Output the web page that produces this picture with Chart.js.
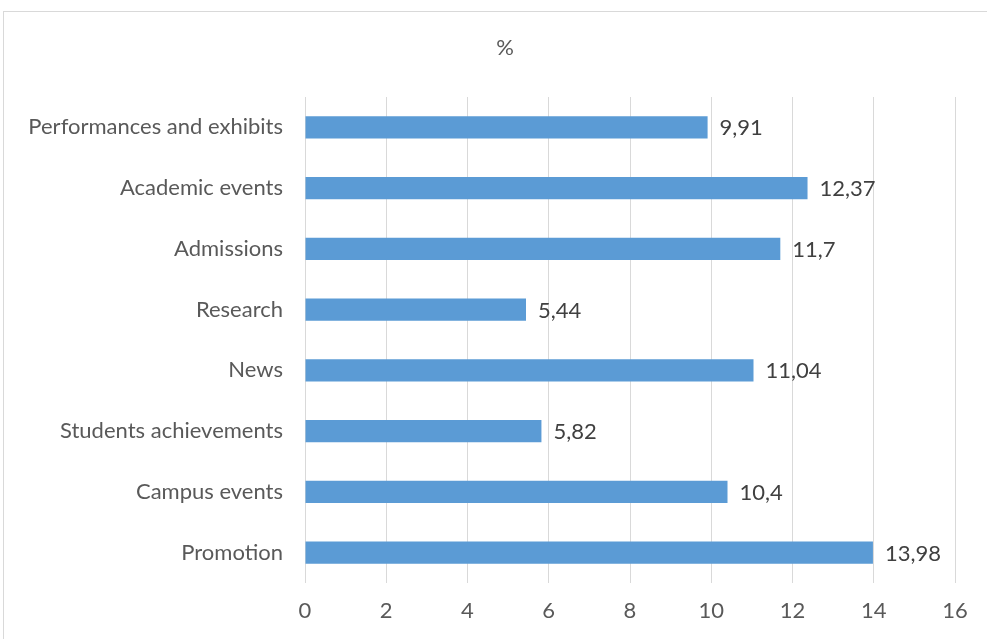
<!DOCTYPE html>
<html><head><meta charset="utf-8">
<script src="https://cdn.jsdelivr.net/npm/chart.js@4/dist/chart.umd.min.js"></script>
<style>
html,body{margin:0;padding:0;background:#fff;overflow:hidden;}
#frame{position:absolute;left:3px;top:11px;width:1000px;height:700px;border:1px solid #d9d9d9;box-sizing:border-box;}
#wrap{position:absolute;left:0;top:0;width:987px;height:639px;}
</style></head>
<body>
<div id="frame"></div>
<div id="wrap"><canvas id="c" width="987" height="639"></canvas></div>
<script>
const categories = ["Performances and exhibits","Academic events","Admissions","Research","News","Students achievements","Campus events","Promotion"];
const values = [9.91, 12.37, 11.7, 5.44, 11.04, 5.82, 10.4, 13.98];
const xTicks = [0,2,4,6,8,10,12,14,16];
const titleText = '%';

const FONT = "Lato, 'Open Sans', sans-serif";

const labelPlugin = {
  id: 'barLabels',
  afterDatasetsDraw(chart) {
    const ctx = chart.ctx;
    const meta = chart.getDatasetMeta(0);
    ctx.save();
    ctx.font = "22px " + FONT;
    ctx.fillStyle = "#404040";
    ctx.textAlign = "left";
    ctx.textBaseline = "middle";
    meta.data.forEach((bar, i) => {
      const txt = String(values[i]).replace('.', ',');
      ctx.fillText(txt, bar.x + 12, bar.y + 1);
    });
    // title centred over the full (wider) chart frame
    ctx.fillStyle = "#595959";
    ctx.textAlign = "center";
    ctx.fillText(titleText, 505, 48);
    ctx.restore();
  }
};

new Chart(document.getElementById('c'), {
  type: 'bar',
  data: {
    labels: categories,
    datasets: [{
      data: values,
      backgroundColor: '#5b9bd5',
      borderWidth: 0,
      barPercentage: 0.6,
      categoryPercentage: 0.605
    }]
  },
  options: {
    indexAxis: 'y',
    responsive: false,
    animation: false,
    layout: { padding: { left: 0, right: 32, top: 97, bottom: 0 } },
    plugins: {
      legend: { display: false },
      tooltip: { enabled: false },
      title: { display: false }
    },
    scales: {
      x: {
        min: 0, max: 16,
        afterBuildTicks(scale) { scale.ticks = xTicks.map(v => ({ value: v })); },
        afterFit(scale) { scale.height = 56; },
        grid: { color: '#d9d9d9', lineWidth: 1, drawTicks: false },
        border: { display: false },
        ticks: { color: '#595959', padding: 15, font: { family: FONT, size: 22 } }
      },
      y: {
        afterFit(scale) { scale.width = 305; },
        grid: { display: false, drawTicks: false },
        border: { display: false },
        ticks: { color: '#595959', padding: 22, font: { family: FONT, size: 22 } }
      }
    }
  },
  plugins: [labelPlugin]
});
</script>
</body></html>
